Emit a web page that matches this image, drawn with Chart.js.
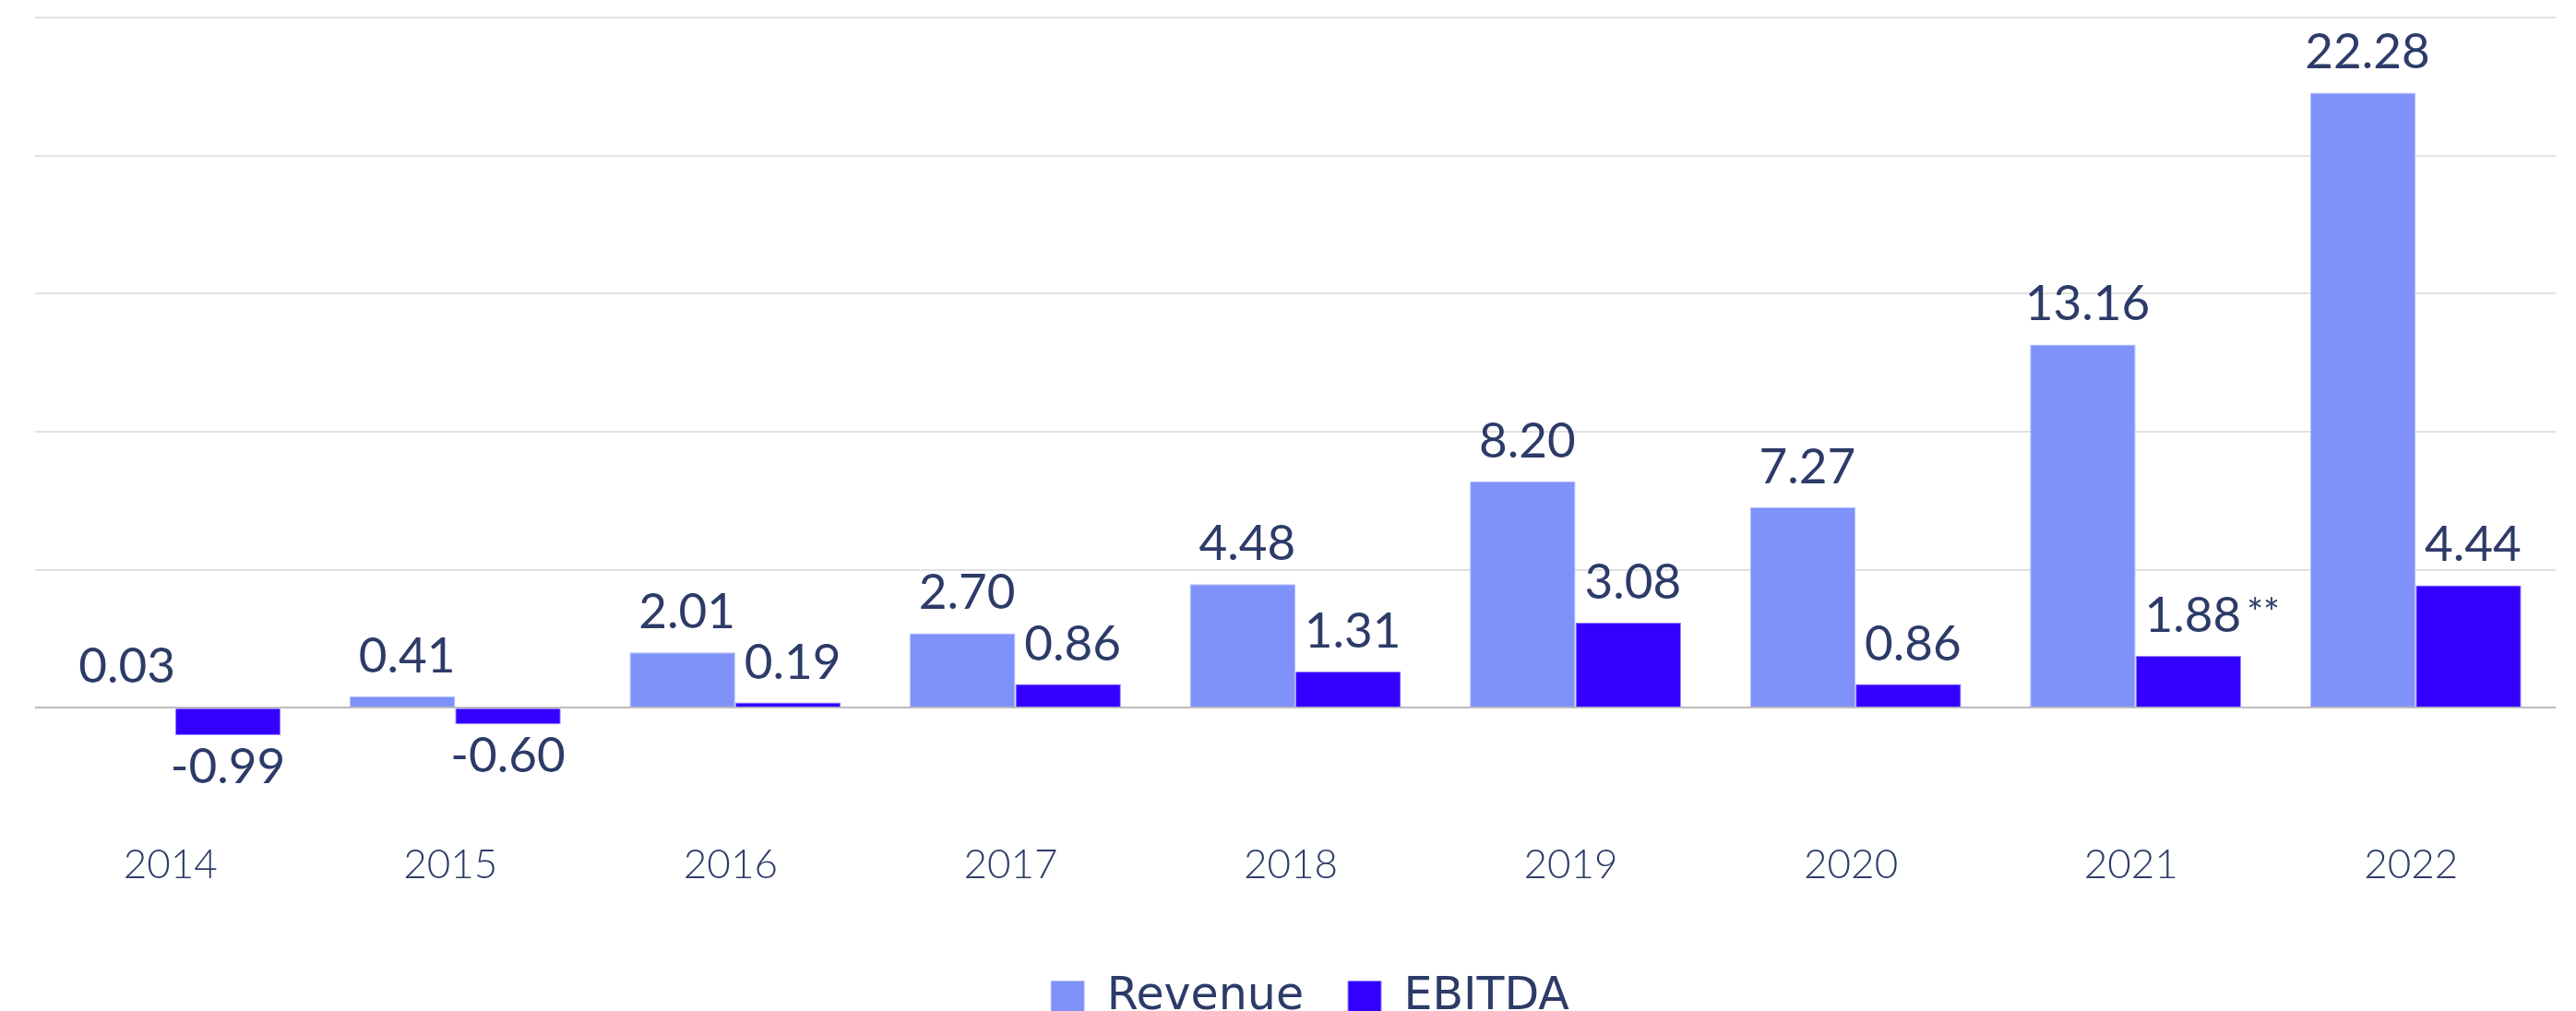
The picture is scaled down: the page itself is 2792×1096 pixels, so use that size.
<!DOCTYPE html>
<html>
<head>
<meta charset="utf-8">
<script src="https://cdn.jsdelivr.net/npm/chart.js@4.4.0/dist/chart.umd.min.js"></script>
<style>
  html, body { margin: 0; padding: 0; background: #fff; }
  #wrap { width: 2792px; height: 1096px; position: relative; }
</style>
</head>
<body>
<div id="wrap"><canvas id="chart"></canvas></div>
<script>
const years = ["2014", "2015", "2016", "2017", "2018", "2019", "2020", "2021", "2022"];
const revenue = [0.03, 0.41, 2.01, 2.70, 4.48, 8.20, 7.27, 13.16, 22.28];
const ebitda = [-0.99, -0.60, 0.19, 0.86, 1.31, 3.08, 0.86, 1.88, 4.44];
const ebitdaNotes = ["", "", "", "", "", "", "", "**", ""];
const yMin = -4.4, yMax = 25, yStep = 5;

const TEXT = "#2c3b68";
const FONT = "Lato, 'Open Sans', sans-serif";

// value labels above / below each bar
const valueLabels = {
  id: "valueLabels",
  afterLayout(chart) {
    // legend sits a little right of centre in the original
    chart.legend.left += 16;
    chart.legend.right += 16;
  },
  afterDatasetsDraw(chart) {
    const ctx = chart.ctx;
    ctx.save();
    ctx.fillStyle = TEXT;
    ctx.textBaseline = "alphabetic";
    chart.data.datasets.forEach((ds, i) => {
      chart.getDatasetMeta(i).data.forEach((bar, j) => {
        const v = ds.data[j];
        const txt = v.toFixed(2);
        const y = v >= 0 ? bar.y - 26 : bar.y + 52;
        const x = v >= 0 ? bar.x + 5 : bar.x;
        ctx.font = "400 53px " + FONT;
        ctx.textAlign = "center";
        ctx.fillText(txt, x, y);
        const note = ds.notes && ds.notes[j];
        if (note) {
          const w = ctx.measureText(txt).width;
          ctx.font = "400 42px " + FONT;
          ctx.textAlign = "left";
          ctx.fillText(note, x + w / 2 + 6, y - 6);
        }
      });
    });
    ctx.restore();
  }
};

new Chart(document.getElementById("chart"), {
  type: "bar",
  data: {
    labels: years,
    datasets: [
      {
        label: "Revenue",
        data: revenue,
        backgroundColor: "#7f92f9",
        borderColor: "#b4bffc",
        borderWidth: 1
      },
      {
        label: "EBITDA",
        data: ebitda,
        notes: ebitdaNotes,
        backgroundColor: "#3300ff",
        borderColor: "#9a88ff",
        borderWidth: 1
      }
    ]
  },
  options: {
    responsive: true,
    maintainAspectRatio: false,
    animation: false,
    categoryPercentage: 0.754,
    barPercentage: 1.0,
    layout: { padding: { top: 19, left: 38, right: 22, bottom: -20 } },
    plugins: {
      tooltip: { enabled: false },
      legend: {
        position: "bottom",
        labels: {
          boxWidth: 36,
          boxHeight: 36,
          padding: 48,
          color: TEXT,
          font: { family: "'DejaVu Sans', sans-serif", size: 49, lineHeight: 1 }
        }
      }
    },
    scales: {
      x: {
        grid: { display: false },
        border: { display: false },
        ticks: {
          color: TEXT,
          font: { family: FONT, size: 44, weight: "300" },
          padding: 4,
          labelOffset: -5
        },
        afterFit: s => { s.height = 110; }
      },
      y: {
        min: yMin,
        max: yMax,
        border: { display: false },
        ticks: { display: false, stepSize: yStep },
        grid: {
          drawTicks: false,
          lineWidth: 2,
          color: c => c.tick.value === 0 ? "#bcbcbc" : (c.tick.value < 0 ? "rgba(0,0,0,0)" : "#e1e1e1")
        }
      }
    }
  },
  plugins: [valueLabels]
});
</script>
</body>
</html>
